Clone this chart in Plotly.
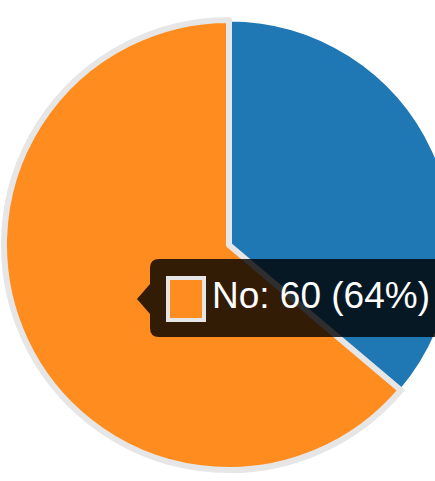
import plotly.graph_objects as go

# ---- data ----
labels = ["Yes", "No"]
values = [34, 60]
colors = ["#1f77b4", "#ff8c1e"]
hover_label = "No"

# ---- geometry helpers (page pixels -> paper) ----
W, H = 470, 481
def px(x):
    return x / W
def py(y):
    return 1 - y / H

cx, cy, r = 229, 245, 225

fig = go.Figure()
fig.add_trace(go.Pie(
    labels=labels,
    values=values,
    sort=False,
    direction="clockwise",
    rotation=0,
    textinfo="none",
    marker=dict(colors=colors, line=dict(color=["#ffffff", "#e6e6e6"], width=[3, 6])),
    domain=dict(x=[px(cx - r), px(cx + r)], y=[py(cy + r), py(cy - r)]),
    showlegend=False,
))

# tooltip
idx = labels.index(hover_label)
total = sum(values)
pct = round(values[idx] * 100 / total)
tip_text = f"{labels[idx]}: {values[idx]} ({pct}%)"

L, T, B, R, rad = 150, 259, 337, 500, 9
ay = 299
path = (
    f"M {px(L+rad)},{py(T)} L {px(R)},{py(T)} L {px(R)},{py(B)} L {px(L+rad)},{py(B)} "
    f"Q {px(L)},{py(B)} {px(L)},{py(B-rad)} L {px(L)},{py(ay+15)} L {px(137)},{py(ay)} "
    f"L {px(L)},{py(ay-15)} L {px(L)},{py(T+rad)} Q {px(L)},{py(T)} {px(L+rad)},{py(T)} Z"
)
fig.add_shape(type="path", path=path, xref="paper", yref="paper",
              fillcolor="rgba(0,0,0,0.8)", line=dict(width=0))
fig.add_shape(type="rect", xref="paper", yref="paper",
              x0=px(168), x1=px(204), y0=py(278), y1=py(320),
              fillcolor=colors[idx], line=dict(color="#e6e6e6", width=4))
fig.add_annotation(text=tip_text, xref="paper", yref="paper",
                   x=px(210), y=py(295), xanchor="left", yanchor="middle",
                   showarrow=False,
                   font=dict(family="Liberation Sans, Arial", size=37, color="#ffffff"))

fig.update_layout(
    width=W, height=H,
    margin=dict(l=0, r=0, t=0, b=0),
    paper_bgcolor="#ffffff",
    plot_bgcolor="#ffffff",
)

fig.write_html("out.html", config={"displayModeBar": False},
               post_script="document.documentElement.style.overflow='hidden';document.body.style.overflow='hidden';document.body.style.margin='0';")
